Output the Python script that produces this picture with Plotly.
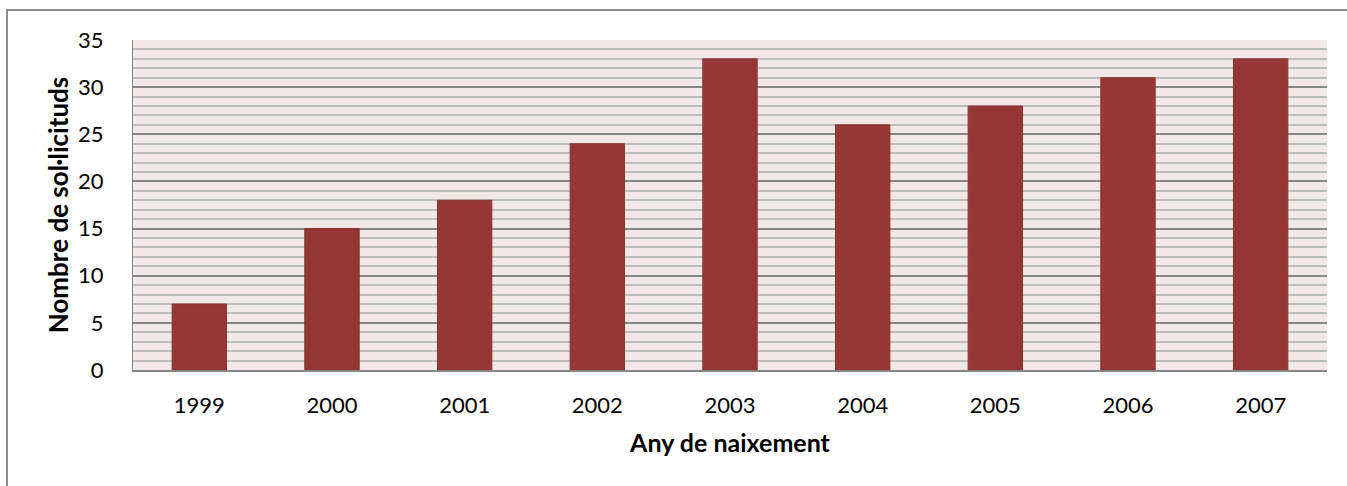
import plotly.graph_objects as go

years = ["1999", "2000", "2001", "2002", "2003", "2004", "2005", "2006", "2007"]
requests = [7, 15, 18, 24, 33, 26, 28, 31, 33]

x_title = "Any de naixement"
y_title = "Nombre de sol·licituds"

FONT = "Lato, 'Open Sans', sans-serif"

fig = go.Figure()
fig.add_trace(go.Bar(
    x=years, y=requests,
    marker=dict(color="#953735", line=dict(color="#8A3432", width=1)),
    width=0.41,
))

W, H = 1347, 486
L, R, T, B = 133, 20, 40, 116
pw = W - L - R
ph = H - T - B

fig.update_layout(
    width=W, height=H,
    margin=dict(l=L, r=R, t=T, b=B, autoexpand=False),
    paper_bgcolor="white",
    plot_bgcolor="#F2E8E8",
    font=dict(family=FONT, size=22, color="black"),
    showlegend=False,
    xaxis=dict(
        type="category",
        showgrid=False,
        showline=True, linecolor="#868686", linewidth=2,
        ticks="", ticklabelstandoff=15,
        tickfont=dict(size=22),
        title=dict(text="<b>" + x_title + "</b>", font=dict(size=25), standoff=17),
    ),
    yaxis=dict(
        range=[0, 35],
        tickvals=[0, 5, 10, 15, 20, 25, 30, 35],
        showgrid=True, gridcolor="#868686", gridwidth=1.5,
        minor=dict(dtick=1, showgrid=True, gridcolor="#BDBDBD", gridwidth=1.5),
        showline=True, linecolor="#868686", linewidth=1,
        ticks="", ticklabelstandoff=24,
        tickfont=dict(size=22),
        zeroline=False,
        title=dict(text="<b>" + y_title + "</b>", font=dict(size=26), standoff=1),
    ),
    shapes=[dict(
        type="rect", xref="paper", yref="paper",
        x0=(7 - L) / pw, x1=(W + 20 - L) / pw,
        y0=-(B + 30) / ph, y1=(H - B - 10) / ph,
        line=dict(color="#8C8C8C", width=2), fillcolor="rgba(0,0,0,0)",
        layer="below",
    )],
)

fig.write_html(
    "out.html",
    config={"displayModeBar": False},
    post_script="document.body.style.margin='0';document.body.style.overflow='hidden';",
)
